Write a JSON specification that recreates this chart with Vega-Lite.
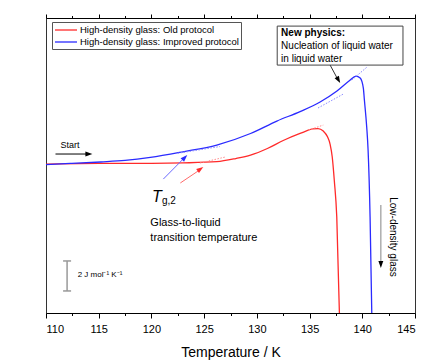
{
  "$schema": "https://vega.github.io/schema/vega-lite/v6.json",
  "width": 369,
  "height": 295,
  "autosize": {"type": "none"},
  "padding": {"left": 46, "top": 18, "right": 11, "bottom": 47},
  "config": {
    "font": "Liberation Sans",
    "view": {"stroke": "#333", "strokeWidth": 1},
    "axis": {"grid": false, "domainColor": "#000", "tickColor": "#000", "labelColor": "#000", "titleColor": "#000", "titleFontWeight": "normal", "labelFont": "Liberation Sans", "titleFont": "Liberation Sans", "domainWidth": 1, "tickWidth": 1}
  },
  "datasets": {
    "curves": [
      {"series": "High-density glass: Old protocol", "T": 110.0, "Cp": 9.93},
      {"series": "High-density glass: Old protocol", "T": 115.0, "Cp": 9.97},
      {"series": "High-density glass: Old protocol", "T": 120.0, "Cp": 9.98},
      {"series": "High-density glass: Old protocol", "T": 123.0, "Cp": 10.01},
      {"series": "High-density glass: Old protocol", "T": 126.2, "Cp": 10.09},
      {"series": "High-density glass: Old protocol", "T": 128.0, "Cp": 10.3},
      {"series": "High-density glass: Old protocol", "T": 129.4, "Cp": 10.53},
      {"series": "High-density glass: Old protocol", "T": 131.0, "Cp": 10.97},
      {"series": "High-density glass: Old protocol", "T": 132.5, "Cp": 11.5},
      {"series": "High-density glass: Old protocol", "T": 134.1, "Cp": 11.97},
      {"series": "High-density glass: Old protocol", "T": 135.3, "Cp": 12.27},
      {"series": "High-density glass: Old protocol", "T": 135.8, "Cp": 12.3},
      {"series": "High-density glass: Old protocol", "T": 136.3, "Cp": 12.13},
      {"series": "High-density glass: Old protocol", "T": 136.7, "Cp": 11.75},
      {"series": "High-density glass: Old protocol", "T": 136.95, "Cp": 11.25},
      {"series": "High-density glass: Old protocol", "T": 137.15, "Cp": 10.4},
      {"series": "High-density glass: Old protocol", "T": 137.35, "Cp": 8.8},
      {"series": "High-density glass: Old protocol", "T": 137.58, "Cp": 6.4},
      {"series": "High-density glass: Old protocol", "T": 137.83, "Cp": 0},
      {"series": "High-density glass: Improved protocol", "T": 110.0, "Cp": 9.9},
      {"series": "High-density glass: Improved protocol", "T": 112.3, "Cp": 9.97},
      {"series": "High-density glass: Improved protocol", "T": 115.2, "Cp": 10.07},
      {"series": "High-density glass: Improved protocol", "T": 117.5, "Cp": 10.17},
      {"series": "High-density glass: Improved protocol", "T": 119.9, "Cp": 10.37},
      {"series": "High-density glass: Improved protocol", "T": 123.0, "Cp": 10.75},
      {"series": "High-density glass: Improved protocol", "T": 126.2, "Cp": 11.2},
      {"series": "High-density glass: Improved protocol", "T": 129.4, "Cp": 11.97},
      {"series": "High-density glass: Improved protocol", "T": 131.9, "Cp": 12.8},
      {"series": "High-density glass: Improved protocol", "T": 134.1, "Cp": 13.43},
      {"series": "High-density glass: Improved protocol", "T": 136.0, "Cp": 14.07},
      {"series": "High-density glass: Improved protocol", "T": 137.6, "Cp": 14.8},
      {"series": "High-density glass: Improved protocol", "T": 138.8, "Cp": 15.5},
      {"series": "High-density glass: Improved protocol", "T": 139.4, "Cp": 15.8},
      {"series": "High-density glass: Improved protocol", "T": 139.8, "Cp": 15.67},
      {"series": "High-density glass: Improved protocol", "T": 140.1, "Cp": 15.0},
      {"series": "High-density glass: Improved protocol", "T": 140.2, "Cp": 14.2},
      {"series": "High-density glass: Improved protocol", "T": 140.42, "Cp": 12.4},
      {"series": "High-density glass: Improved protocol", "T": 140.55, "Cp": 10.87},
      {"series": "High-density glass: Improved protocol", "T": 140.74, "Cp": 6.4},
      {"series": "High-density glass: Improved protocol", "T": 140.9, "Cp": 0}
    ],
    "fits": [
      {"series": "old", "seg": "r1", "T": 124.6, "Cp": 10.0},
      {"series": "old", "seg": "r1", "T": 127.0, "Cp": 10.4},
      {"series": "old", "seg": "r2", "T": 134.9, "Cp": 12.2},
      {"series": "old", "seg": "r2", "T": 136.3, "Cp": 12.53},
      {"series": "new", "seg": "b1", "T": 122.5, "Cp": 10.65},
      {"series": "new", "seg": "b1", "T": 126.5, "Cp": 11.1},
      {"series": "new", "seg": "b2", "T": 135.8, "Cp": 13.67},
      {"series": "new", "seg": "b2", "T": 138.2, "Cp": 14.6},
      {"series": "new", "seg": "b3", "T": 139.0, "Cp": 15.53},
      {"series": "new", "seg": "b3", "T": 140.45, "Cp": 16.4}
    ]
  },
  "layer": [
    {
      "data": {"name": "curves"},
      "mark": {"type": "line", "strokeWidth": 1.3, "interpolate": "monotone"},
      "encoding": {
        "x": {"field": "T", "type": "quantitative", "scale": {"domain": [110, 145], "nice": false},
          "axis": {"orient": "bottom", "values": [110, 115, 120, 125, 130, 135, 140, 145], "tickSize": 5, "labelFontSize": 11, "labelPadding": 5, "title": "Temperature / K", "titleFontSize": 14, "titlePadding": 11}},
        "y": {"field": "Cp", "type": "quantitative", "scale": {"domain": [0, 19.67], "nice": false, "zero": false},
          "axis": {"title": "Isobaric heat capacity", "titleFontSize": 14, "labels": false, "ticks": false, "titlePadding": 19}},
        "color": {"field": "series", "type": "nominal",
          "scale": {"domain": ["High-density glass: Old protocol", "High-density glass: Improved protocol"], "range": ["#ff2a2a", "#2a2aff"]},
          "legend": {"orient": "none", "legendX": 6, "legendY": 4, "title": null, "symbolType": "M-1,0L3.4,0", "symbolSize": 100, "symbolStrokeWidth": 1.3, "labelFontSize": 9.5, "labelFont": "Liberation Sans", "labelColor": "#000", "labelLimit": 300, "strokeColor": "#555", "fillColor": "#fff", "padding": 2, "rowPadding": 1, "labelOffset": 14}}
      }
    },
    {
      "data": {"name": "fits"},
      "transform": [{"filter": "datum.series === 'old'"}],
      "mark": {"type": "line", "strokeDash": [1.5, 1.5], "color": "#ff8c8c", "strokeWidth": 1},
      "encoding": {
        "x": {"field": "T", "type": "quantitative", "axis": {"orient": "top", "values": [110, 115, 120, 125, 130, 135, 140, 145], "labels": false, "tickSize": 4, "title": null}},
        "y": {"field": "Cp", "type": "quantitative", "axis": null},
        "detail": {"field": "seg"}
      }
    },
    {
      "data": {"name": "fits"},
      "transform": [{"filter": "datum.series === 'new'"}],
      "mark": {"type": "line", "strokeDash": [1.5, 1.5], "color": "#8c8cff", "strokeWidth": 1},
      "encoding": {
        "x": {"field": "T", "type": "quantitative", "axis": {"orient": "bottom", "values": [112.5, 117.5, 122.5, 127.5, 132.5, 137.5, 142.5], "labels": false, "domain": false, "tickSize": 2.5, "title": null}},
        "y": {"field": "Cp", "type": "quantitative", "axis": null},
        "detail": {"field": "seg"}
      }
    },
    {
      "data": {"values": [{"T": 131.93, "T2": 143.86, "Cp": 19.13, "Cp2": 16.53}]},
      "mark": {"type": "rect", "fill": "#fff", "stroke": "#444", "strokeWidth": 1},
      "encoding": {
        "x": {"field": "T", "type": "quantitative", "axis": {"orient": "top", "values": [112.5, 117.5, 122.5, 127.5, 132.5, 137.5, 142.5], "labels": false, "domain": false, "tickSize": 2.5, "title": null}},
        "x2": {"field": "T2"},
        "y": {"field": "Cp", "type": "quantitative", "axis": null},
        "y2": {"field": "Cp2"}
      }
    },
    {
      "data": {"values": [
        {"T": 112.0, "Cp": 1.47, "T2": 112.0, "Cp2": 3.47},
        {"T": 111.62, "Cp": 1.47, "T2": 112.38, "Cp2": 1.47},
        {"T": 111.62, "Cp": 3.47, "T2": 112.38, "Cp2": 3.47}
      ]},
      "mark": {"type": "rule", "color": "#999", "strokeWidth": 1.5},
      "encoding": {
        "x": {"field": "T", "type": "quantitative", "axis": null},
        "y": {"field": "Cp", "type": "quantitative", "axis": null},
        "x2": {"field": "T2"},
        "y2": {"field": "Cp2"}
      }
    },
    {
      "data": {"values": [{"T": 113.0, "Cp": 2.55, "label": "2 J mol⁻¹ K⁻¹"}]},
      "mark": {"type": "text", "fontSize": 8, "align": "left", "baseline": "middle", "color": "#000"},
      "encoding": {
        "x": {"field": "T", "type": "quantitative", "axis": null},
        "y": {"field": "Cp", "type": "quantitative", "axis": null},
        "text": {"field": "label"}
      }
    },
    {
      "data": {"values": [{"T": 111.37, "Cp": 11.2, "label": "Start"}]},
      "mark": {"type": "text", "fontSize": 9, "align": "left", "baseline": "middle", "color": "#000"},
      "encoding": {
        "x": {"field": "T", "type": "quantitative", "axis": null},
        "y": {"field": "Cp", "type": "quantitative", "axis": null},
        "text": {"field": "label"}
      }
    },
    {
      "data": {"values": [{"T": 120.05, "Cp": 7.42, "label": "T"}]},
      "mark": {"type": "text", "fontSize": 16, "fontStyle": "italic", "align": "left", "baseline": "alphabetic", "color": "#000"},
      "encoding": {
        "x": {"field": "T", "type": "quantitative", "axis": null},
        "y": {"field": "Cp", "type": "quantitative", "axis": null},
        "text": {"field": "label"}
      }
    },
    {
      "data": {"values": [{"T": 121.0, "Cp": 7.25, "label": "g,2"}]},
      "mark": {"type": "text", "fontSize": 10, "align": "left", "baseline": "alphabetic", "color": "#000"},
      "encoding": {
        "x": {"field": "T", "type": "quantitative", "axis": null},
        "y": {"field": "Cp", "type": "quantitative", "axis": null},
        "text": {"field": "label"}
      }
    },
    {
      "data": {"values": [
        {"T": 119.9, "Cp": 6.0, "label": "Glass-to-liquid"},
        {"T": 119.9, "Cp": 5.03, "label": "transition temperature"}
      ]},
      "mark": {"type": "text", "fontSize": 11, "align": "left", "baseline": "middle", "color": "#000"},
      "encoding": {
        "x": {"field": "T", "type": "quantitative", "axis": null},
        "y": {"field": "Cp", "type": "quantitative", "axis": null},
        "text": {"field": "label"}
      }
    },
    {
      "data": {"values": [{"T": 132.3, "Cp": 18.67, "label": "New physics:"}]},
      "mark": {"type": "text", "fontSize": 10, "fontWeight": "bold", "align": "left", "baseline": "middle", "color": "#000"},
      "encoding": {
        "x": {"field": "T", "type": "quantitative", "axis": null},
        "y": {"field": "Cp", "type": "quantitative", "axis": null},
        "text": {"field": "label"}
      }
    },
    {
      "data": {"values": [
        {"T": 132.3, "Cp": 17.8, "label": "Nucleation of liquid water"},
        {"T": 132.3, "Cp": 16.93, "label": "in liquid water"}
      ]},
      "mark": {"type": "text", "fontSize": 10, "align": "left", "baseline": "middle", "color": "#000"},
      "encoding": {
        "x": {"field": "T", "type": "quantitative", "axis": null},
        "y": {"field": "Cp", "type": "quantitative", "axis": null},
        "text": {"field": "label"}
      }
    },
    {
      "data": {"values": [{"T": 142.92, "Cp": 5.07, "label": "Low-density glass"}]},
      "mark": {"type": "text", "fontSize": 10, "angle": 90, "align": "center", "baseline": "middle", "color": "#000"},
      "encoding": {
        "x": {"field": "T", "type": "quantitative", "axis": null},
        "y": {"field": "Cp", "type": "quantitative", "axis": null},
        "text": {"field": "label"}
      }
    },
    {
      "data": {"values": [{"T": 110.9, "Cp": 10.6, "T2": 114.0, "Cp2": 10.6, "hT": 114.4, "hCp": 10.6}]},
      "layer": [
        {"mark": {"type": "rule", "color": "#000", "strokeWidth": 1},
          "encoding": {"x": {"field": "T", "type": "quantitative", "axis": null}, "y": {"field": "Cp", "type": "quantitative", "axis": null}, "x2": {"field": "T2"}, "y2": {"field": "Cp2"}}},
        {"mark": {"type": "point", "shape": "M0,0L-0.35,1L0.35,1Z", "filled": true, "opacity": 1, "size": 196, "angle": 90, "color": "#000"},
          "encoding": {"x": {"field": "hT", "type": "quantitative", "axis": null}, "y": {"field": "hCp", "type": "quantitative", "axis": null}}}
      ]
    },
    {
      "data": {"values": [{"T": 121.13, "Cp": 8.93, "T2": 123.1, "Cp2": 10.33, "hT": 123.4, "hCp": 10.53}]},
      "layer": [
        {"mark": {"type": "rule", "color": "#6a6aff", "strokeWidth": 1},
          "encoding": {"x": {"field": "T", "type": "quantitative", "axis": null}, "y": {"field": "Cp", "type": "quantitative", "axis": null}, "x2": {"field": "T2"}, "y2": {"field": "Cp2"}}},
        {"mark": {"type": "point", "shape": "M0,0L-0.35,1L0.35,1Z", "filled": true, "opacity": 1, "size": 196, "angle": 45, "color": "#2a2aff"},
          "encoding": {"x": {"field": "hT", "type": "quantitative", "axis": null}, "y": {"field": "hCp", "type": "quantitative", "axis": null}}}
      ]
    },
    {
      "data": {"values": [{"T": 122.74, "Cp": 8.67, "T2": 124.6, "Cp2": 9.55, "hT": 124.92, "hCp": 9.73}]},
      "layer": [
        {"mark": {"type": "rule", "color": "#ff6a6a", "strokeWidth": 1},
          "encoding": {"x": {"field": "T", "type": "quantitative", "axis": null}, "y": {"field": "Cp", "type": "quantitative", "axis": null}, "x2": {"field": "T2"}, "y2": {"field": "Cp2"}}},
        {"mark": {"type": "point", "shape": "M0,0L-0.35,1L0.35,1Z", "filled": true, "opacity": 1, "size": 196, "angle": 55, "color": "#ff2a2a"},
          "encoding": {"x": {"field": "hT", "type": "quantitative", "axis": null}, "y": {"field": "hCp", "type": "quantitative", "axis": null}}}
      ]
    },
    {
      "data": {"values": [{"T": 136.95, "Cp": 16.53, "T2": 137.7, "Cp2": 15.55, "hT": 137.9, "hCp": 15.33}]},
      "layer": [
        {"mark": {"type": "rule", "color": "#333", "strokeWidth": 1},
          "encoding": {"x": {"field": "T", "type": "quantitative", "axis": null}, "y": {"field": "Cp", "type": "quantitative", "axis": null}, "x2": {"field": "T2"}, "y2": {"field": "Cp2"}}},
        {"mark": {"type": "point", "shape": "M0,0L-0.35,1L0.35,1Z", "filled": true, "opacity": 1, "size": 196, "angle": 151, "color": "#000"},
          "encoding": {"x": {"field": "hT", "type": "quantitative", "axis": null}, "y": {"field": "hCp", "type": "quantitative", "axis": null}}}
      ]
    },
    {
      "data": {"values": [{"T": 141.76, "Cp": 7.2, "T2": 141.76, "Cp2": 3.4, "hT": 141.76, "hCp": 3.0}]},
      "layer": [
        {"mark": {"type": "rule", "color": "#999", "strokeWidth": 1.2},
          "encoding": {"x": {"field": "T", "type": "quantitative", "axis": null}, "y": {"field": "Cp", "type": "quantitative", "axis": null}, "x2": {"field": "T2"}, "y2": {"field": "Cp2"}}},
        {"mark": {"type": "point", "shape": "M0,0L-0.35,1L0.35,1Z", "filled": true, "opacity": 1, "size": 196, "angle": 180, "color": "#000"},
          "encoding": {"x": {"field": "hT", "type": "quantitative", "axis": null}, "y": {"field": "hCp", "type": "quantitative", "axis": null}}}
      ]
    }
  ],
  "resolve": {"axis": {"x": "independent"}}
}
